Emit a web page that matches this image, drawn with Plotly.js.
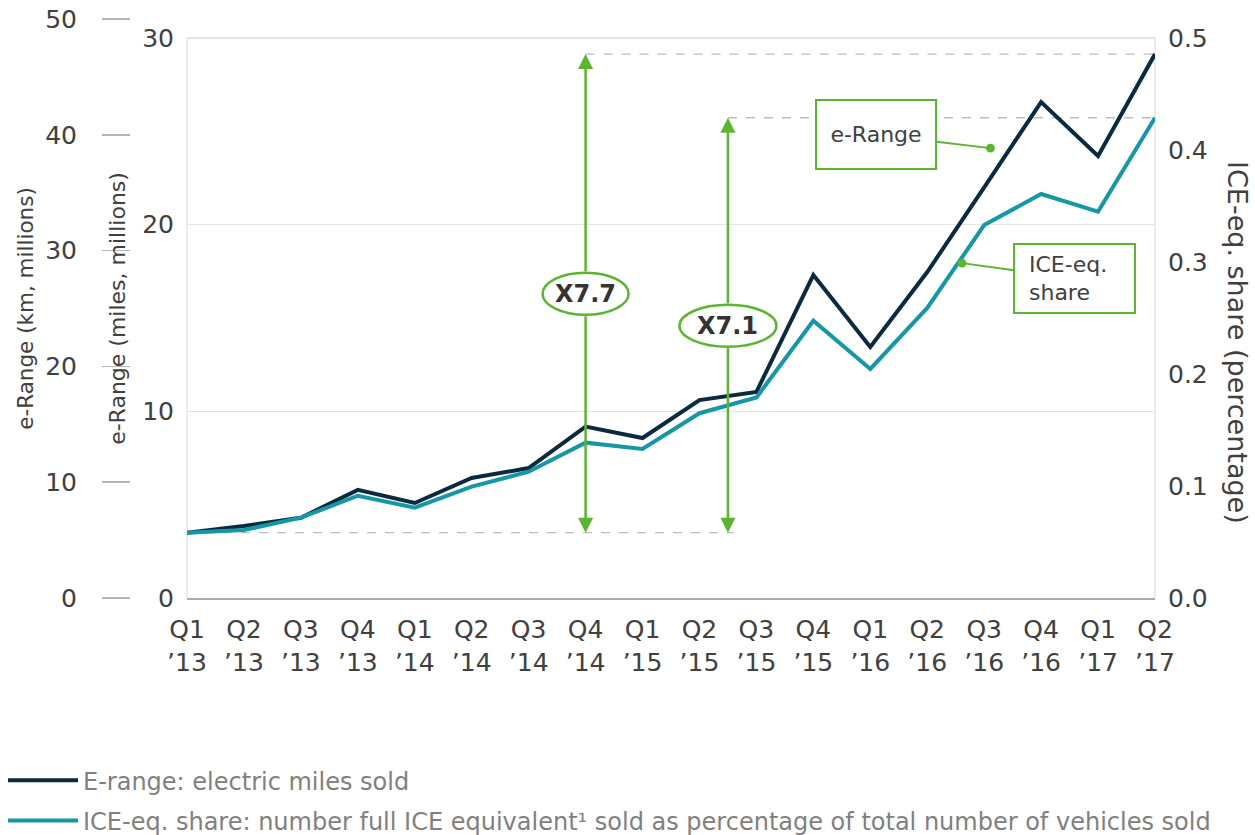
<!DOCTYPE html>
<html>
<head>
<meta charset="utf-8">
<script src="https://cdn.plot.ly/plotly-3.0.1.min.js"></script>
<style>html,body{margin:0;padding:0;background:#fff;}</style>
</head>
<body>
<div id="chart" style="width:1255px;height:835px;"></div>
<script>
// ---- data ----
const quarters = ["Q1<br>’13","Q2<br>’13","Q3<br>’13","Q4<br>’13","Q1<br>’14","Q2<br>’14","Q3<br>’14","Q4<br>’14","Q1<br>’15","Q2<br>’15","Q3<br>’15","Q4<br>’15","Q1<br>’16","Q2<br>’16","Q3<br>’16","Q4<br>’16","Q1<br>’17","Q2<br>’17"];
const eRangeMiles = [3.5, 3.86, 4.3, 5.79, 5.09, 6.43, 6.96, 9.18, 8.57, 10.6, 11.04, 17.3, 13.45, 17.46, 22.0, 26.57, 23.68, 29.14];
const iceShare = [0.0583, 0.0607, 0.0717, 0.0913, 0.0806, 0.0994, 0.1128, 0.1387, 0.133, 0.165, 0.179, 0.2476, 0.2045, 0.259, 0.333, 0.3607, 0.345, 0.4288];
const seriesNames = ["E-range: electric miles sold", "ICE-eq. share: number full ICE equivalent¹ sold as percentage of total number of vehicles sold"];
const ratioLabels = ["X7.7", "X7.1"];
const milesTicks = [0, 10, 20, 30];
const kmTicks = [0, 10, 20, 30, 40, 50];
const shareTicks = [0, 0.1, 0.2, 0.3, 0.4, 0.5];

const navy = '#0a2b3f', teal = '#1597a5', green = '#5cb531';
const txt = '#404040';
const FONT = 'DejaVu Sans, Verdana, sans-serif';
// plot area spans km 0..50; the miles / share axes reach 30 / 0.5 a little below its top
const topFrac = 579 / 560;
const last = quarters.length - 1;
const lab1Y = 16.3, lab2Y = 0.243;

const traces = [
  {type:'scatter', mode:'lines', name: seriesNames[0], x: quarters, y: eRangeMiles, xaxis:'x', yaxis:'y',
   line:{color:navy, width:4}, legendgroup:'a'},
  {type:'scatter', mode:'lines', name: seriesNames[1], x: quarters, y: iceShare, xaxis:'x', yaxis:'y2',
   line:{color:teal, width:4}, legendgroup:'b'},
  {type:'scatter', mode:'lines', x:[quarters[0]], y:[0], xaxis:'x', yaxis:'y3', showlegend:false, hoverinfo:'skip'}
];

const arrowBase = {text:'', showarrow:true, arrowhead:2, arrowsize:1.2, arrowwidth:2.5, arrowcolor:green,
  arrowside:'end', startstandoff:21, axref:'x'};
const annotations = [
  Object.assign({}, arrowBase, {xref:'x', yref:'y', x:7, y:eRangeMiles[last], ax:7, ay:lab1Y, ayref:'y'}),
  Object.assign({}, arrowBase, {xref:'x', yref:'y', x:7, y:eRangeMiles[0], ax:7, ay:lab1Y, ayref:'y'}),
  Object.assign({}, arrowBase, {xref:'x', yref:'y2', x:9.5, y:iceShare[last], ax:9.5, ay:lab2Y, ayref:'y2'}),
  Object.assign({}, arrowBase, {xref:'x', yref:'y2', x:9.5, y:iceShare[0], ax:9.5, ay:lab2Y, ayref:'y2'}),
  {xref:'x', yref:'y', x:7, y:lab1Y, text:'<b>'+ratioLabels[0]+'</b>', showarrow:false, font:{family:FONT, size:24, color:'#333'}},
  {xref:'x', yref:'y2', x:9.5, y:lab2Y, text:'<b>'+ratioLabels[1]+'</b>', showarrow:false, font:{family:FONT, size:24, color:'#333'}},
  {xref:'x', yref:'y', x:14.11, y:24.1, ax:-114, ay:-13.5, text:'e-Range', showarrow:true, arrowhead:6, arrowsize:1.1,
   arrowwidth:2, arrowcolor:green, bordercolor:green, borderwidth:2, borderpad:0, bgcolor:'#fff',
   width:118, height:67, align:'center', valign:'middle', font:{family:FONT, size:22, color:txt}},
  {xref:'x', yref:'y2', x:13.61, y:0.299, ax:112.5, ay:15.5, text:'&nbsp;&nbsp;ICE-eq.<br>&nbsp;&nbsp;share', showarrow:true, arrowhead:6, arrowsize:1.1,
   arrowwidth:2, arrowcolor:green, bordercolor:green, borderwidth:2, borderpad:0, bgcolor:'#fff',
   width:119, height:67, align:'left', valign:'middle', font:{family:FONT, size:22, color:txt}},
  {xref:'paper', yref:'paper', x:1.07205, y:0.4421, text:'ICE-eq. share (percentage)', textangle:90, showarrow:false,
   xanchor:'center', yanchor:'middle', font:{family:FONT, size:27, color:txt}}
];

const dashLine = {color:'#bdbdbd', width:1.3, dash:'dash'};
const shapes = [
  {type:'line', xref:'x domain', yref:'y', x0:0, x1:1, y0:milesTicks[3], y1:milesTicks[3], line:{color:'#a8a8a8', width:2}, layer:'below'},
  {type:'line', xref:'x domain', yref:'y', x0:0, x1:0, y0:0, y1:milesTicks[3], line:{color:'#ececec', width:2}, layer:'below'},
  {type:'line', xref:'x domain', yref:'y', x0:1, x1:1, y0:0, y1:milesTicks[3], line:{color:'#ececec', width:2}, layer:'below'},
  {type:'line', xref:'x', yref:'y', x0:0, x1:9.6, y0:eRangeMiles[0], y1:eRangeMiles[0], line:dashLine, layer:'below'},
  {type:'line', xref:'x', yref:'y', x0:7, x1:last, y0:eRangeMiles[last], y1:eRangeMiles[last], line:dashLine, layer:'below'},
  {type:'line', xref:'x', yref:'y2', x0:9.5, x1:last, y0:iceShare[last], y1:iceShare[last], line:dashLine, layer:'below'},
  {type:'circle', xref:'x', yref:'y', xsizemode:'pixel', ysizemode:'pixel', xanchor:7, yanchor:lab1Y,
   x0:-43, x1:43, y0:-21, y1:21, fillcolor:'#fff', line:{color:green, width:2.5}, layer:'above'},
  {type:'circle', xref:'x', yref:'y2', xsizemode:'pixel', ysizemode:'pixel', xanchor:9.5, yanchor:lab2Y,
   x0:-48.5, x1:48.5, y0:-21, y1:21, fillcolor:'#fff', line:{color:green, width:2.5}, layer:'above'}
];

const legendMain = {xref:'paper', yref:'container', x:0, y:0.092, xanchor:'left', yanchor:'top',
  orientation:'v', itemwidth:70, traceorder:'grouped', tracegroupgap:6,
  font:{size:24, color:'#808080'}, bgcolor:'rgba(0,0,0,0)'};
const legendFallback = {x:0, y:-0.4059, xanchor:'left', yanchor:'bottom',
  orientation:'v', itemwidth:70, traceorder:'grouped', tracegroupgap:2,
  font:{size:24, color:'#808080'}, bgcolor:'rgba(0,0,0,0)'};

function makeLayout(legend) {
  return {
    width:1255, height:835,
    margin:{l:3, r:100, t:19, b:237},
    paper_bgcolor:'#fff', plot_bgcolor:'#fff',
    font:{family:FONT, color:txt},
    showlegend:true, hovermode:false,
    xaxis:{type:'category', domain:[0.159722, 1], range:[0, last], anchor:'y',
      showgrid:false, zeroline:false, showline:true, linecolor:'#ababab', linewidth:2,
      ticks:'', ticklabelstandoff:8, tickfont:{size:25, color:txt}},
    yaxis:{range:[0, milesTicks[3] * topFrac], tickvals:milesTicks, anchor:'x',
      showgrid:true, gridcolor:'#e4e4e4', gridwidth:1.5, zeroline:false,
      showline:false, ticks:'', ticklabelstandoff:12, tickfont:{size:25, color:txt},
      title:{text:'e-Range (miles, millions)', font:{size:22, color:txt}, standoff:10}},
    yaxis2:{overlaying:'y', side:'right', anchor:'x', range:[0, shareTicks[5] * topFrac], tickvals:shareTicks, tickformat:'.1f',
      showgrid:false, zeroline:false, showline:false,
      ticks:'', ticklabelstandoff:12, tickfont:{size:25, color:txt}},
    yaxis3:{overlaying:'y', range:[0, kmTicks[5]], tickvals:kmTicks, anchor:'free', position:0.110243, side:'left',
      showgrid:false, zeroline:false, showline:false,
      ticks:'outside', ticklen:28, tickcolor:'#b5b5b5', tickwidth:1.5, ticklabelstandoff:20,
      tickfont:{size:25, color:txt},
      title:{text:'e-Range (km, millions)', font:{size:21.5, color:txt}, standoff:4}},
    legend: legend,
    annotations: annotations,
    shapes: shapes
  };
}

const cfg = {displayModeBar:false, staticPlot:true};
const gd = document.getElementById('chart');
function drawFallback() {
  Plotly.purge(gd);
  return Plotly.newPlot(gd, traces, makeLayout(legendFallback), cfg);
}
try {
  Plotly.newPlot(gd, traces, makeLayout(legendMain), cfg).catch(drawFallback);
} catch (e) {
  drawFallback();
}
</script>
</body>
</html>
